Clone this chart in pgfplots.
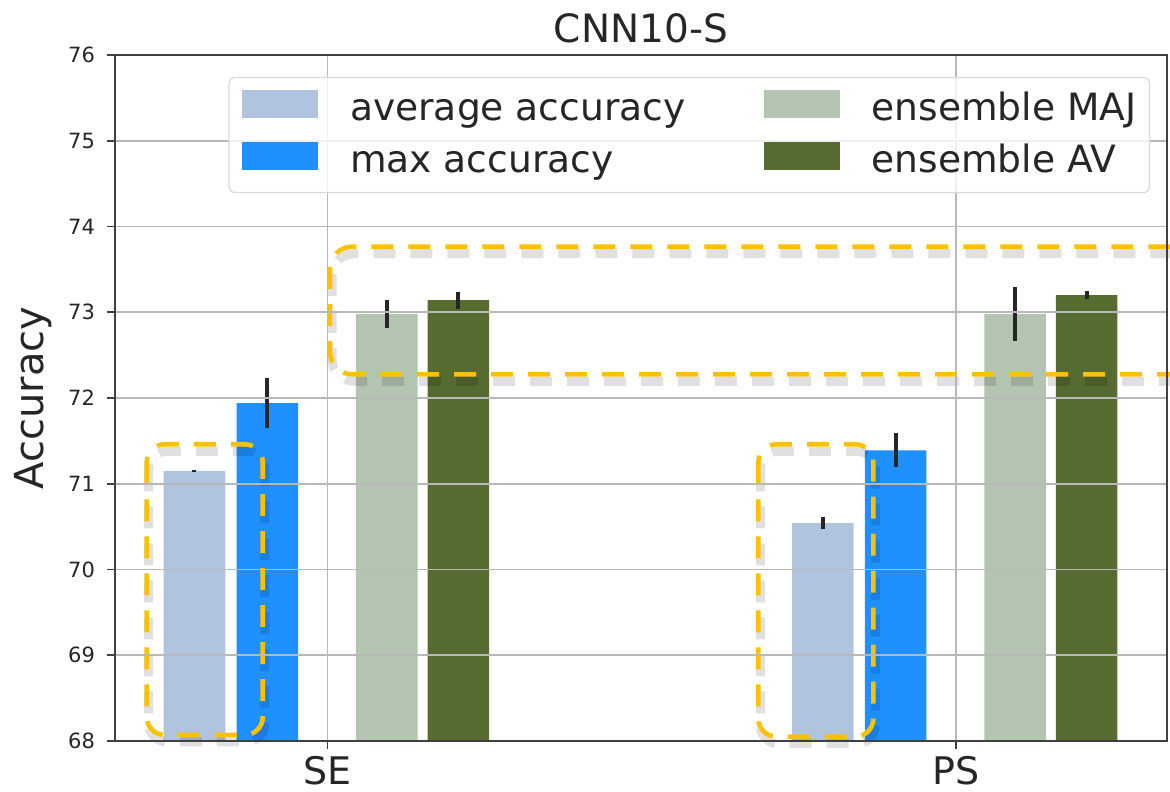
\documentclass[border=0pt]{standalone}
\usepackage{fontspec}
\setmainfont{DejaVu Sans}
\usepackage{pgfplots}
\pgfplotsset{compat=1.18}
\definecolor{cavg}{HTML}{B0C4DE}
\definecolor{cmax}{HTML}{1E90FF}
\definecolor{cmaj}{HTML}{B3C5B0}
\definecolor{cav}{HTML}{556B2F}
\definecolor{cbox}{HTML}{FFC000}
\tikzset{
  annbox/.style={draw=cbox, line width=2.3pt, dash pattern=on 11pt off 7.5pt},
  annshadow/.style={draw=black, opacity=0.12, line width=4.5pt, dash pattern=on 11pt off 7.5pt, yshift=-3.5pt, xshift=1pt},
}
\begin{document}
\begin{tikzpicture}
\begin{axis}[
  scale only axis, width=526pt, height=343pt,
  xmin=-0.3385, xmax=1.3358, ymin=68, ymax=76,
  xtick={0,1}, xticklabels={SE,PS},
  ytick={68,69,...,76},
  ybar, bar width=0.098,
  grid=major,
  major grid style={line width=0.8pt, black!28},
  axis line style={line width=0.8pt, black!75},
  tick style={line width=0.8pt, black!75},
  tick align=outside, major tick length=4pt,
  xtick pos=left, ytick pos=left,
  axis on top,
  clip mode=individual,
  /pgf/number format/assume math mode=true,
  yticklabel style={font=\fontsize{10.5}{12}\selectfont, text=black!85, xshift=-2.5pt},
  xticklabel style={font=\fontsize{19}{22}\selectfont, text=black!85},
  title=CNN10-S,
  title style={font=\fontsize{19.5}{22}\selectfont, anchor=base, at={(axis description cs:0.5,1)}, yshift=0pt, text=black!85},
  ylabel=Accuracy,
  ylabel style={font=\fontsize{20}{22}\selectfont, at={(axis description cs:-0.078,0.5)}, anchor=center, text=black!85},
  legend columns=2, transpose legend, legend cell align=left,
  legend style={at={(0.984,0.968)}, anchor=north east, draw=black!15, line width=0.6pt,
    rounded corners=3pt, fill=white, fill opacity=0.8, text opacity=1,
    font=\fontsize{18.8}{22}\selectfont, inner xsep=6.5pt, inner ysep=6pt,
    row sep=6.5pt,
    nodes={inner sep=0pt, text height=14pt, text depth=4pt, text=black!85},
    /tikz/every odd column/.append style={column sep=16pt},
    /tikz/every even column/.append style={column sep=39pt}},
  legend image code/.code={\fill[#1, fill opacity=1, sharp corners] (0pt,-3.5pt) rectangle (38pt,10.5pt);},
  error bars/y dir=both, error bars/y explicit, error bars/error mark=none,
  error bars/error bar style={line width=2pt, black!85, opacity=1},
]
\addplot[fill=cavg, draw=none, bar shift=0pt] coordinates {(-0.212,71.15) +- (0,0.01) (0.788,70.54) +- (0,0.07)};
\addlegendentry{average accuracy}
\addplot[fill=cmax, draw=none, bar shift=0pt] coordinates {(-0.096,71.94) +- (0,0.29) (0.904,71.39) +- (0,0.20)};
\addlegendentry{max accuracy}
\addplot[fill=cmaj, draw=none, bar shift=0pt] coordinates {(0.094,72.98) +- (0,0.16) (1.094,72.98) +- (0,0.31)};
\addlegendentry{ensemble MAJ}
\addplot[fill=cav, draw=none, bar shift=0pt] coordinates {(0.208,73.14) +- (0,0.10) (1.208,73.20) +- (0,0.045)};
\addlegendentry{ensemble AV}
% annotation boxes
\draw[annshadow, rounded corners=11pt] (axis cs:1.40,73.764) -- (axis cs:0.0037,73.764) -- (axis cs:0.0037,72.276) -- (axis cs:1.40,72.276);
\draw[annbox, rounded corners=11pt] (axis cs:1.40,73.764) -- (axis cs:0.0037,73.764) -- (axis cs:0.0037,72.276) -- (axis cs:1.40,72.276);
\draw[annshadow, rounded corners=9pt] (axis cs:-0.288,71.46) rectangle (axis cs:-0.1033,68.07);
\draw[annbox, rounded corners=9pt] (axis cs:-0.288,71.46) rectangle (axis cs:-0.1033,68.07);
\draw[annshadow, rounded corners=9pt] (axis cs:0.6854,71.46) rectangle (axis cs:0.8684,68.05);
\draw[annbox, rounded corners=9pt] (axis cs:0.6854,71.46) rectangle (axis cs:0.8684,68.05);
\end{axis}
\pgfresetboundingbox
\path ([shift={(-57.5pt,-25.5pt)}]current axis.south west) rectangle ([shift={(1.5pt,27.5pt)}]current axis.north east);
\end{tikzpicture}
\end{document}
